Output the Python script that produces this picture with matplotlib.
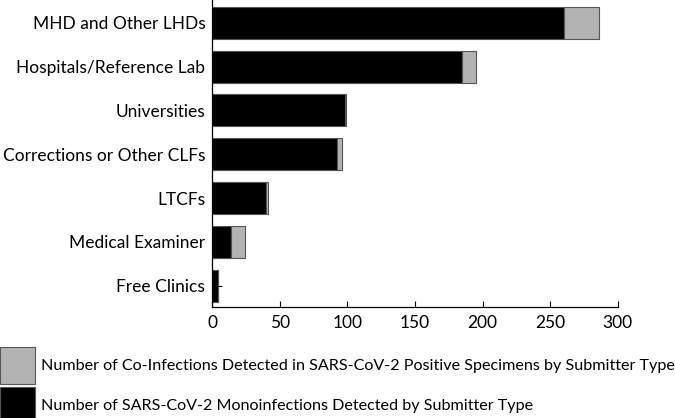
import numpy as np
import matplotlib.pyplot as plt
from matplotlib.patches import Patch

plt.rcParams['font.family'] = ['Lato', 'DejaVu Sans']

# data
categories = ['MHD and Other LHDs', 'Hospitals/Reference Lab', 'Universities',
              'Corrections or Other CLFs', 'LTCFs', 'Medical Examiner', 'Free Clinics']
mono = np.array([260, 185, 98, 92, 40, 14, 4])
coinf = np.array([26, 10, 1, 4, 1, 10, 0])
extra = np.array([0, 0, 0, 0, 0, 0, 3.5])   # small whisker on Free Clinics
xticks = [0, 50, 100, 150, 200, 250, 300]

lab_mono = 'Number of SARS-CoV-2 Monoinfections Detected by Submitter Type'
lab_co = 'Number of Co-Infections Detected in SARS-CoV-2 Positive Specimens by Submitter Type'

fig = plt.figure(figsize=(6.75, 4.18), dpi=100)
ax = fig.add_axes([212.3 / 675, 1 - 306.7 / 418, (617.7 - 212.3) / 675, 306.7 / 418])

y = np.arange(len(categories))
ax.barh(y, mono, height=0.73, color='black', edgecolor='#555555', linewidth=0.8)
ax.barh(y, coinf, left=mono, height=0.73, color='#b3b3b3', edgecolor='#555555', linewidth=0.8)
ax.errorbar(mono + coinf, y, xerr=[np.zeros_like(extra), extra], fmt='none',
            ecolor='black', elinewidth=0.8, capsize=0)

ax.set_xlim(0, 300)
ax.set_ylim(6.48, -0.52)
ax.set_xticks(xticks)
ax.set_yticks(y)
ax.set_yticklabels(categories)
ax.tick_params(axis='x', direction='in', length=4, width=0.8, labelsize=12.5, pad=6)
ax.tick_params(axis='y', length=0, labelsize=12.5, pad=5)
for s in ['top', 'right']:
    ax.spines[s].set_visible(False)
for s in ['left', 'bottom']:
    ax.spines[s].set_linewidth(0.9)

handles = [Patch(facecolor='#b3b3b3', edgecolor='#555555', linewidth=0.8),
           Patch(facecolor='black', edgecolor='#555555', linewidth=0.8)]
fig.legend(handles, [lab_co, lab_mono], loc='upper left',
           bbox_to_anchor=(0, 1 - 347 / 418), frameon=False, borderpad=0,
           borderaxespad=0, fontsize=11.6, handlelength=2.2, handleheight=3.15,
           handletextpad=0.35, labelspacing=0.2)

fig.savefig('out.png', dpi=100)
